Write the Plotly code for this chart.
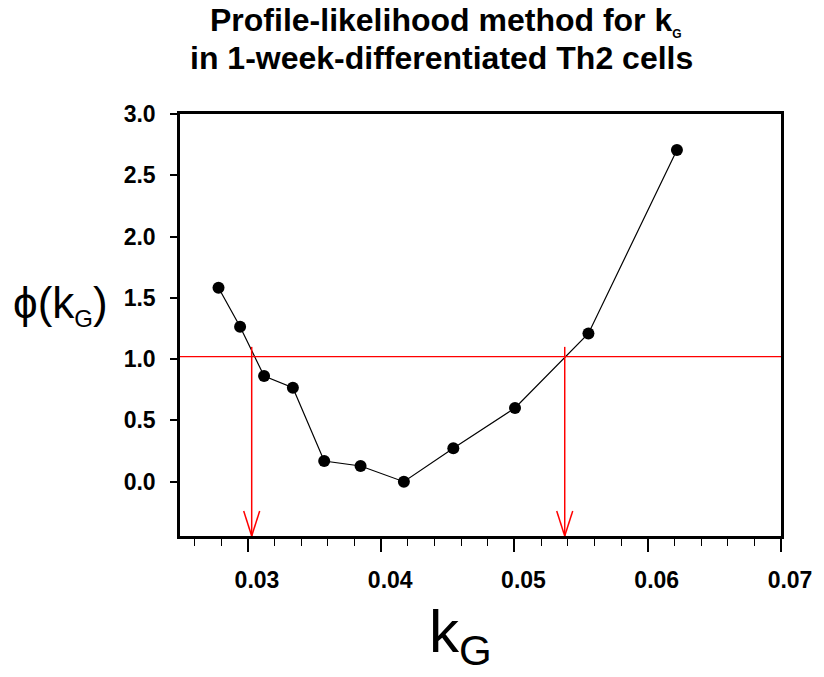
import plotly.graph_objects as go

# ---- data ----
k_g = [0.02779, 0.02941, 0.03121, 0.03337, 0.03572, 0.03845, 0.04170,
       0.04541, 0.05004, 0.05555, 0.06219]
phi = [1.582, 1.264, 0.862, 0.767, 0.169, 0.128, 0.000,
       0.272, 0.601, 1.210, 2.706]
threshold = 1.02
ci_bounds = [0.03028, 0.05377]
arrow_top = 1.10

x_ticks = [0.03, 0.04, 0.05, 0.06, 0.07]
x_ticktext = ["0.03", "0.04", "0.05", "0.06", "0.07"]
y_ticks = [0.0, 0.5, 1.0, 1.5, 2.0, 2.5, 3.0]
y_ticktext = ["0.0", "0.5", "1.0", "1.5", "2.0", "2.5", "3.0"]

x_range = [0.0249, 0.0700]
y_range = [-0.443, 3.0]

FONT = "Liberation Sans, Arial, sans-serif"
RED = "#ff0000"

fig = go.Figure()
fig.add_trace(go.Scatter(
    x=k_g, y=phi, mode="lines+markers",
    line=dict(color="black", width=1.2),
    marker=dict(color="black", size=12),
    showlegend=False, hoverinfo="skip",
))

shapes = [dict(type="line", xref="paper", x0=0, x1=1, yref="y",
               y0=threshold, y1=threshold, line=dict(color=RED, width=1.3))]
for xb in ci_bounds:
    shapes.append(dict(type="line", xref="x", yref="y", x0=xb, x1=xb,
                       y0=arrow_top, y1=y_range[0], line=dict(color=RED, width=1.5)))
    for dx in (-8, 8):
        shapes.append(dict(type="line", xref="x", yref="y",
                           xsizemode="pixel", xanchor=xb, x0=dx, x1=0,
                           ysizemode="pixel", yanchor=y_range[0], y0=25, y1=0,
                           line=dict(color=RED, width=1.5)))

annotations = [
    dict(text="<b>Profile-likelihood method for k<sub><span style='font-size:12px'>G</span></sub></b>",
         xref="paper", yref="paper", x=(448 - 180) / 605, y=(536 - 22) / 422,
         xanchor="center", yanchor="middle", showarrow=False,
         font=dict(family=FONT, size=32, color="black")),
    dict(text="<b>in 1-week-differentiated Th2 cells</b>",
         xref="paper", yref="paper", x=(443 - 180) / 605, y=(536 - 58) / 422,
         xanchor="center", yanchor="middle", showarrow=False,
         font=dict(family=FONT, size=32, color="black")),
    dict(text="ϕ(k<sub><span style='font-size:24px'>G</span></sub>)",
         xref="paper", yref="paper", x=(10 - 180) / 605, y=(536 - 305) / 422,
         xanchor="left", yanchor="middle", showarrow=False,
         font=dict(family=FONT, size=44, color="black")),
    dict(text="k<sub>G</sub>",
         xref="paper", yref="paper", x=(462 - 180) / 605, y=(536 - 636) / 422,
         xanchor="center", yanchor="middle", showarrow=False,
         font=dict(family=FONT, size=60, color="black")),
]

fig.update_layout(
    width=824, height=677,
    margin=dict(l=180, r=39, t=114, b=141),
    paper_bgcolor="white", plot_bgcolor="white",
    shapes=shapes, annotations=annotations,
    font=dict(family=FONT, color="black"),
)
fig.update_xaxes(
    range=x_range, tickvals=x_ticks, ticktext=x_ticktext,
    showline=True, linecolor="black", linewidth=2.5, mirror=True,
    ticks="outside", ticklen=13, tickwidth=1.5, tickcolor="black",
    minor=dict(dtick=0.002, tick0=0.03, ticks="outside", ticklen=7, tickwidth=1.2, tickcolor="black"),
    tickfont=dict(family=FONT, size=23, color="black", weight="bold"),
    ticklabelstandoff=9, ticklabelshift=9,
    showgrid=False, zeroline=False,
)
fig.update_yaxes(
    range=y_range, tickvals=y_ticks, ticktext=y_ticktext,
    showline=True, linecolor="black", linewidth=2.5, mirror=True,
    ticks="outside", ticklen=7, tickwidth=1.5, tickcolor="black",
    tickfont=dict(family=FONT, size=23, color="black", weight="bold"),
    ticklabelstandoff=10,
    showgrid=False, zeroline=False,
)

fig.write_html("out.html")
